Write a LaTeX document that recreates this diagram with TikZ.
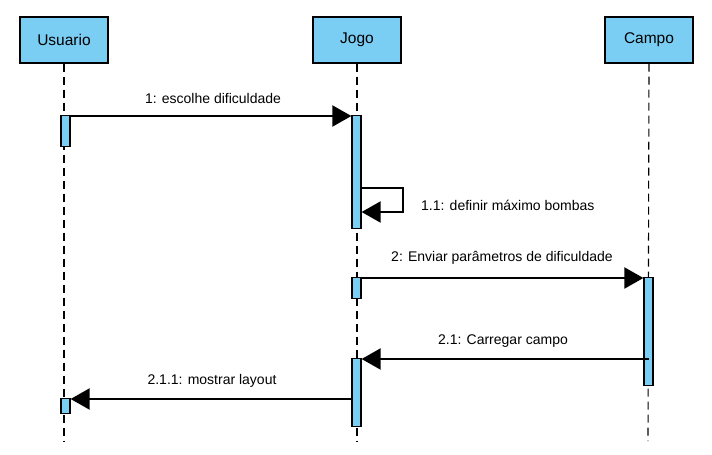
\documentclass[tikz,border=0pt]{standalone}
\usepackage{fontspec}
\setmainfont{Liberation Sans}
\usetikzlibrary{arrows.meta,calc}
\definecolor{lblue}{RGB}{122,206,244}
\tikzset{
  actor/.style={draw=black,fill=lblue,line width=1.3pt,minimum width=88pt,minimum height=46pt,inner sep=0pt,font=\fontsize{15.5}{17}\selectfont},
  bar/.style={draw=black,fill=lblue,line width=1.2pt,minimum width=9pt,inner sep=0pt,anchor=north},
  life/.style={line width=1.1pt,dash pattern=on 8pt off 5pt},
  msg/.style={line width=2pt,-{Triangle[length=19pt,width=21pt]}},
  lbl/.style={font=\fontsize{14}{16}\selectfont,inner sep=0pt}
}
\begin{document}
\begin{tikzpicture}[x=1pt,y=-1pt]
\useasboundingbox (0,0) rectangle (712,455);
% lifelines
\coordinate (ue) at (64,441);
\coordinate (je) at (357,441);
\coordinate (ce) at (648,441);
\node[actor] (usu) at (64,40) {Usuario};
\node[actor] (jogo) at (357,40) {Jogo};
\node[actor] (campo) at (649,40) {Campo};
\draw[life] (usu.south) -- (ue);
\draw[life] (jogo.south) -- (je);
\draw[life] (campo.south) -- (ce);
% activation bars
\node[bar,minimum height=31pt] (ub1) at (65.5,115) {};
\node[bar,minimum height=113pt] (jb1) at (356.5,115) {};
\node[bar,minimum height=21pt] (jb2) at (356.5,277) {};
\node[bar,minimum height=108pt] (cb1) at (648.5,277) {};
\node[bar,minimum height=68pt] (jb3) at (356.5,358) {};
\node[bar,minimum height=15pt] (ub2) at (65.5,398) {};
% messages
\coordinate (m1) at (0,116);
\draw[msg] (ub1.east |- m1) -- (jb1.west |- m1);
\node[lbl] (l1) at (213,98) {1: escolhe dificuldade};
\coordinate (s1) at (0,188);
\coordinate (s2) at (403,212);
\draw[msg] (jb1.east |- s1) -| (s2) -- (jb1.east |- s2);
\node[lbl,anchor=west] (l11) at (421,205) {1.1: definir máximo bombas};
\coordinate (m2) at (0,278);
\draw[msg] (jb2.east |- m2) -- (cb1.west |- m2);
\node[lbl] (l2) at (502,258) {2: Enviar parâmetros de dificuldade};
\coordinate (m3) at (0,359);
\draw[msg] (cb1 |- m3) -- (jb3.east |- m3);
\node[lbl] (l3) at (503,341) {2.1: Carregar campo};
\coordinate (m4) at (0,399);
\draw[msg] (jb3.west |- m4) -- (ub2.east |- m4);
\node[lbl] (l4) at (212,381) {2.1.1: mostrar layout};
\end{tikzpicture}
\end{document}
